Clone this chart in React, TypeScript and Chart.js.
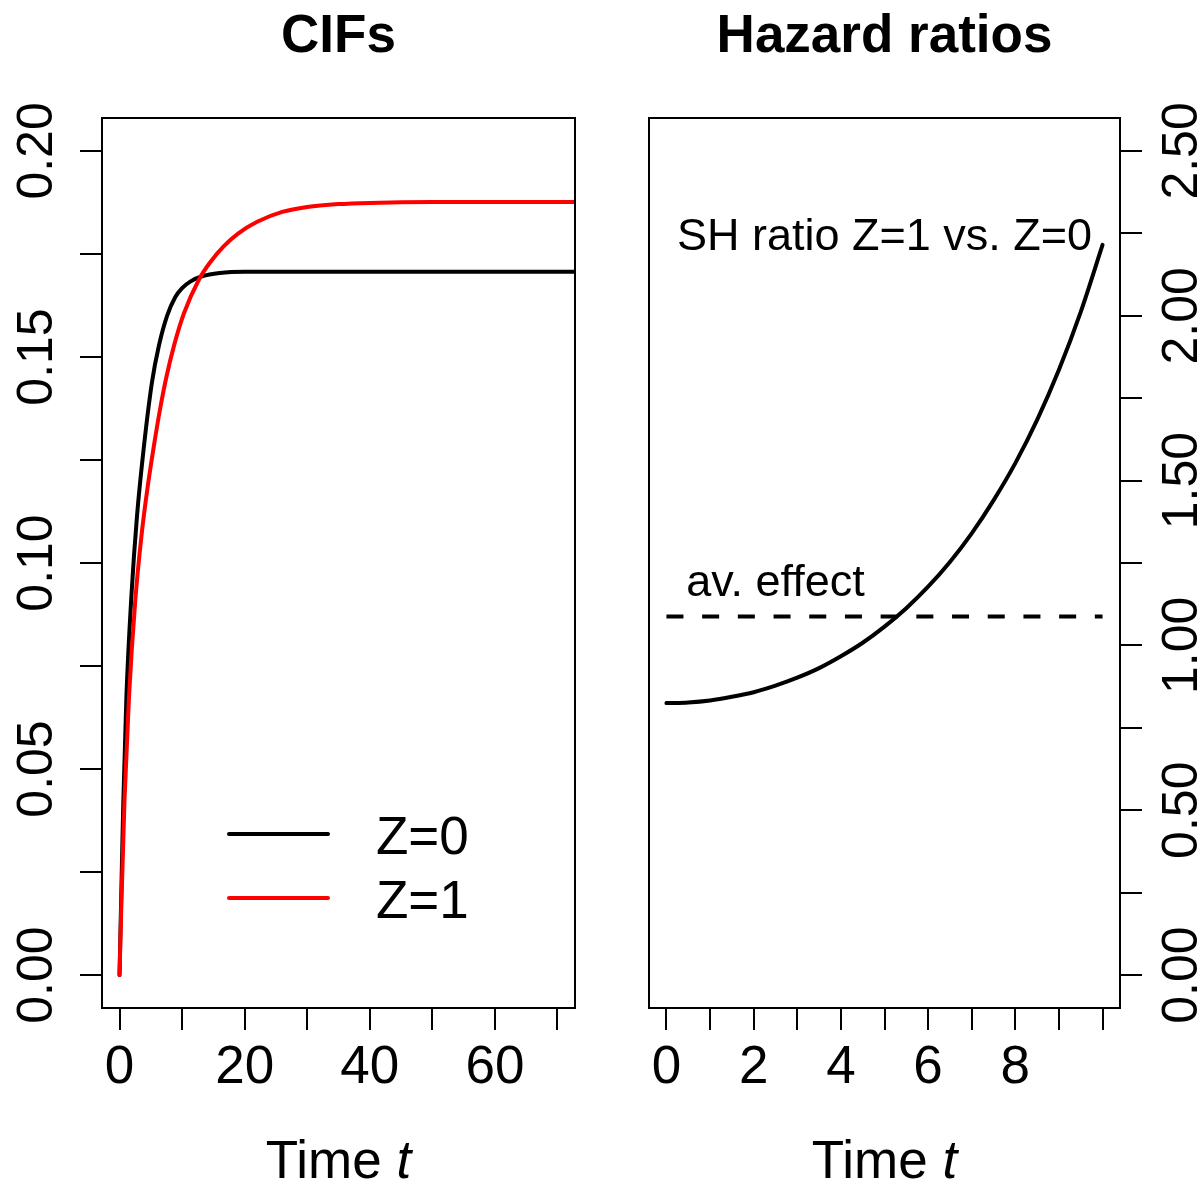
import React, { useEffect, useRef } from "react";
import { Chart, registerables } from "chart.js";

Chart.register(...registerables);

const FONT = '"Liberation Sans", Arial, Helvetica, sans-serif';
const W = 1203;
const H = 1186;

// ---------- Left panel: CIFs ----------
const cifTitle = "CIFs";
const cifTimeZ0 = [0, 0.25, 0.6, 1.1, 1.9, 2.8, 3.9, 5.2, 6.3, 7.6, 8.9, 10, 11.3, 13.2, 16, 20, 30, 75];
const cifZ0 = [0, 0.0175, 0.0415, 0.0675, 0.092, 0.1115, 0.1283, 0.144, 0.1528, 0.16, 0.1645, 0.1667, 0.1683, 0.1696, 0.1704, 0.1707, 0.1707, 0.1707];
const cifTimeZ1 = [0, 0.3, 0.8, 1.5, 2.5, 3.5, 4.5, 5.5, 6.5, 7.5, 8.7, 10.3, 12.7, 14.5, 16.6, 19, 22, 26, 30, 35, 40, 50, 75];
const cifZ1 = [0, 0.0175, 0.0425, 0.067, 0.0905, 0.1065, 0.1185, 0.1285, 0.1375, 0.1452, 0.1527, 0.1606, 0.1688, 0.173, 0.1768, 0.18, 0.1828, 0.1852, 0.1864, 0.1871, 0.1874, 0.1876, 0.1876];
const cifLegendLabels = ["Z=0", "Z=1"];
const cifColors = ["#000000", "#ff0000"];
const cifXTicks = [0, 10, 20, 30, 40, 50, 60, 70];
const cifXLabels = [0, 20, 40, 60];
const cifYTicks = [0, 0.025, 0.05, 0.075, 0.1, 0.125, 0.15, 0.175, 0.2];
const cifYLabels = [0, 0.05, 0.1, 0.15, 0.2];

// ---------- Right panel: hazard ratios ----------
const hrTitle = "Hazard ratios";
const hrTime = [0, 0.5, 1, 1.5, 2, 2.5, 3, 3.5, 4, 4.5, 5, 5.5, 6, 6.5, 7, 7.5, 8, 8.5, 9, 9.5, 10];
const hrRatio = [0.825, 0.827, 0.833, 0.844, 0.858, 0.878, 0.902, 0.931, 0.967, 1.008, 1.057, 1.113, 1.178, 1.253, 1.34, 1.44, 1.553, 1.684, 1.836, 2.012, 2.215];
const hrAvTime = [0, 10];
const hrAvEffect = [1.088, 1.088];
const hrXTicks = [0, 1, 2, 3, 4, 5, 6, 7, 8, 9, 10];
const hrXLabels = [0, 2, 4, 6, 8];
const hrYTicks = [0, 0.25, 0.5, 0.75, 1, 1.25, 1.5, 1.75, 2, 2.25, 2.5];
const hrYLabels = [0, 0.5, 1, 1.5, 2, 2.5];
const hrCurveLabel = "SH ratio Z=1 vs. Z=0";
const hrCurveLabelPos = [5, 2.25];
const hrAvLabel = "av. effect";
const hrAvLabelPos = [2.5, 1.2];
const xTitleParts = ["Time ", "t"];

const has = (arr: number[], v: number) => arr.some((a) => Math.abs(a - v) < 1e-9);
const pts = (xs: number[], ys: number[]) => xs.map((x, i) => ({ x, y: ys[i] }));

const TICK_FONT = { family: FONT, size: 53, lineHeight: 1.2 };
const YTICK_FONT = { family: FONT, size: 50, lineHeight: 1.2 };

function xScale(min: number, max: number, ticks: number[], labels: number[]) {
  return {
    type: "linear",
    min,
    max,
    afterBuildTicks: (s: any) => {
      s.ticks = ticks.map((v) => ({ value: v }));
    },
    afterFit: (s: any) => {
      s.height = H - 1008;
    },
    ticks: {
      autoSkip: false,
      maxRotation: 0,
      minRotation: 0,
      padding: 7,
      color: "#000",
      font: TICK_FONT,
      callback: (v: number) => (has(labels, v) ? String(v) : ""),
    },
    grid: { drawOnChartArea: false, drawTicks: true, tickLength: 22, color: "#000", lineWidth: 2 },
    border: { display: true, color: "#000", width: 2 },
  };
}

function yScale(min: number, max: number, ticks: number[], labels: number[], position: string, width: number, pad: number) {
  return {
    type: "linear",
    position,
    min,
    max,
    afterBuildTicks: (s: any) => {
      s.ticks = ticks.map((v) => ({ value: v }));
    },
    afterFit: (s: any) => {
      s.width = width;
    },
    ticks: {
      autoSkip: false,
      minRotation: 90,
      maxRotation: 90,
      crossAlign: "center",
      padding: pad,
      color: "#000",
      font: YTICK_FONT,
      callback: (v: number) => (has(labels, v) ? v.toFixed(2) : ""),
    },
    grid: { drawOnChartArea: false, drawTicks: true, tickLength: 22, color: "#000", lineWidth: 2 },
    border: { display: true, color: "#000", width: 2 },
  };
}

const boxPlugin = {
  id: "box",
  afterDatasetsDraw(chart: any) {
    const { ctx, chartArea: a } = chart;
    ctx.save();
    ctx.strokeStyle = "#000";
    ctx.lineWidth = 2;
    ctx.strokeRect(a.left, a.top, a.right - a.left, a.bottom - a.top);
    ctx.restore();
  },
};

function drawTitle(ctx: CanvasRenderingContext2D, a: any, text: string) {
  ctx.font = `bold 53px ${FONT}`;
  ctx.fillStyle = "#000";
  ctx.textAlign = "center";
  ctx.textBaseline = "alphabetic";
  ctx.fillText(text, (a.left + a.right) / 2, 52);
}

function drawXTitle(ctx: CanvasRenderingContext2D, a: any) {
  const normal = `53px ${FONT}`;
  const italic = `italic 53px ${FONT}`;
  ctx.font = normal;
  const w1 = ctx.measureText(xTitleParts[0]).width;
  ctx.font = italic;
  const w2 = ctx.measureText(xTitleParts[1]).width;
  const x0 = (a.left + a.right) / 2 - (w1 + w2) / 2;
  ctx.fillStyle = "#000";
  ctx.textAlign = "left";
  ctx.textBaseline = "alphabetic";
  ctx.font = normal;
  ctx.fillText(xTitleParts[0], x0, 1178);
  ctx.font = italic;
  ctx.fillText(xTitleParts[1], x0 + w1, 1178);
}

const leftOverlay = {
  id: "leftOverlay",
  afterDraw(chart: any) {
    const { ctx, chartArea: a } = chart;
    ctx.save();
    drawTitle(ctx, a, cifTitle);
    drawXTitle(ctx, a);
    const rows = [834, 898];
    ctx.lineCap = "round";
    ctx.lineWidth = 4;
    ctx.font = `53px ${FONT}`;
    ctx.textAlign = "left";
    ctx.textBaseline = "alphabetic";
    cifLegendLabels.forEach((lab, i) => {
      ctx.strokeStyle = cifColors[i];
      ctx.beginPath();
      ctx.moveTo(a.left + 127, rows[i]);
      ctx.lineTo(a.left + 226, rows[i]);
      ctx.stroke();
      ctx.fillStyle = "#000";
      ctx.fillText(lab, a.left + 274, rows[i] + 19.5);
    });
    ctx.restore();
  },
};

const rightOverlay = {
  id: "rightOverlay",
  afterDraw(chart: any) {
    const { ctx, chartArea: a, scales } = chart;
    ctx.save();
    drawTitle(ctx, a, hrTitle);
    drawXTitle(ctx, a);
    ctx.font = `45px ${FONT}`;
    ctx.fillStyle = "#000";
    ctx.textAlign = "center";
    ctx.textBaseline = "alphabetic";
    ctx.fillText(hrCurveLabel, scales.x.getPixelForValue(hrCurveLabelPos[0]), scales.y.getPixelForValue(hrCurveLabelPos[1]) + 16.5);
    ctx.fillText(hrAvLabel, scales.x.getPixelForValue(hrAvLabelPos[0]), scales.y.getPixelForValue(hrAvLabelPos[1]) + 16.5);
    ctx.restore();
  },
};

export default function App() {
  const leftRef = useRef<HTMLCanvasElement>(null);
  const rightRef = useRef<HTMLCanvasElement>(null);

  useEffect(() => {
    const common = {
      responsive: false,
      animation: false,
      devicePixelRatio: 1,
      events: [],
      plugins: { legend: { display: false }, tooltip: { enabled: false }, title: { display: false } },
      elements: { point: { radius: 0 } },
    };

    const lineDs = (label: string, xs: number[], ys: number[], color: string, order: number) => ({
      label,
      data: pts(xs, ys),
      borderColor: color,
      borderWidth: 4,
      borderCapStyle: "round",
      borderJoinStyle: "round",
      cubicInterpolationMode: "monotone",
      pointRadius: 0,
      fill: false,
      clip: 0,
      order,
    });

    const left = new Chart(leftRef.current as HTMLCanvasElement, {
      type: "line",
      data: {
        datasets: [
          lineDs(cifLegendLabels[1], cifTimeZ1, cifZ1, cifColors[1], 0),
          lineDs(cifLegendLabels[0], cifTimeZ0, cifZ0, cifColors[0], 1),
        ],
      },
      options: {
        ...common,
        layout: { padding: { left: 0, top: 118, right: W - 575, bottom: 0 } },
        scales: {
          x: xScale(-2.8, 72.8, cifXTicks, cifXLabels),
          y: yScale(-0.008, 0.208, cifYTicks, cifYLabels, "left", 102, -7),
        },
      } as any,
      plugins: [boxPlugin, leftOverlay],
    } as any);

    const right = new Chart(rightRef.current as HTMLCanvasElement, {
      type: "line",
      data: {
        datasets: [
          lineDs(hrCurveLabel, hrTime, hrRatio, "#000", 0),
          {
            label: hrAvLabel,
            data: pts(hrAvTime, hrAvEffect),
            borderColor: "#000",
            borderWidth: 4,
            borderCapStyle: "butt",
            borderDash: [17, 18.7],
            pointRadius: 0,
            fill: false,
            order: 1,
          },
        ],
      },
      options: {
        ...common,
        layout: { padding: { left: 649, top: 118, right: 0, bottom: 0 } },
        scales: {
          x: xScale(-0.4, 10.4, hrXTicks, hrXLabels),
          y: yScale(-0.1, 2.6, hrYTicks, hrYLabels, "right", W - 1120, -7),
        },
      } as any,
      plugins: [boxPlugin, rightOverlay],
    } as any);

    return () => {
      left.destroy();
      right.destroy();
    };
  }, []);

  const canvasStyle: React.CSSProperties = { position: "absolute", left: 0, top: 0, width: W, height: H };
  return (
    <div style={{ position: "fixed", left: 0, top: 0, width: W, height: H, background: "#fff" }}>
      <canvas ref={leftRef} width={W} height={H} style={canvasStyle} />
      <canvas ref={rightRef} width={W} height={H} style={canvasStyle} />
    </div>
  );
}
